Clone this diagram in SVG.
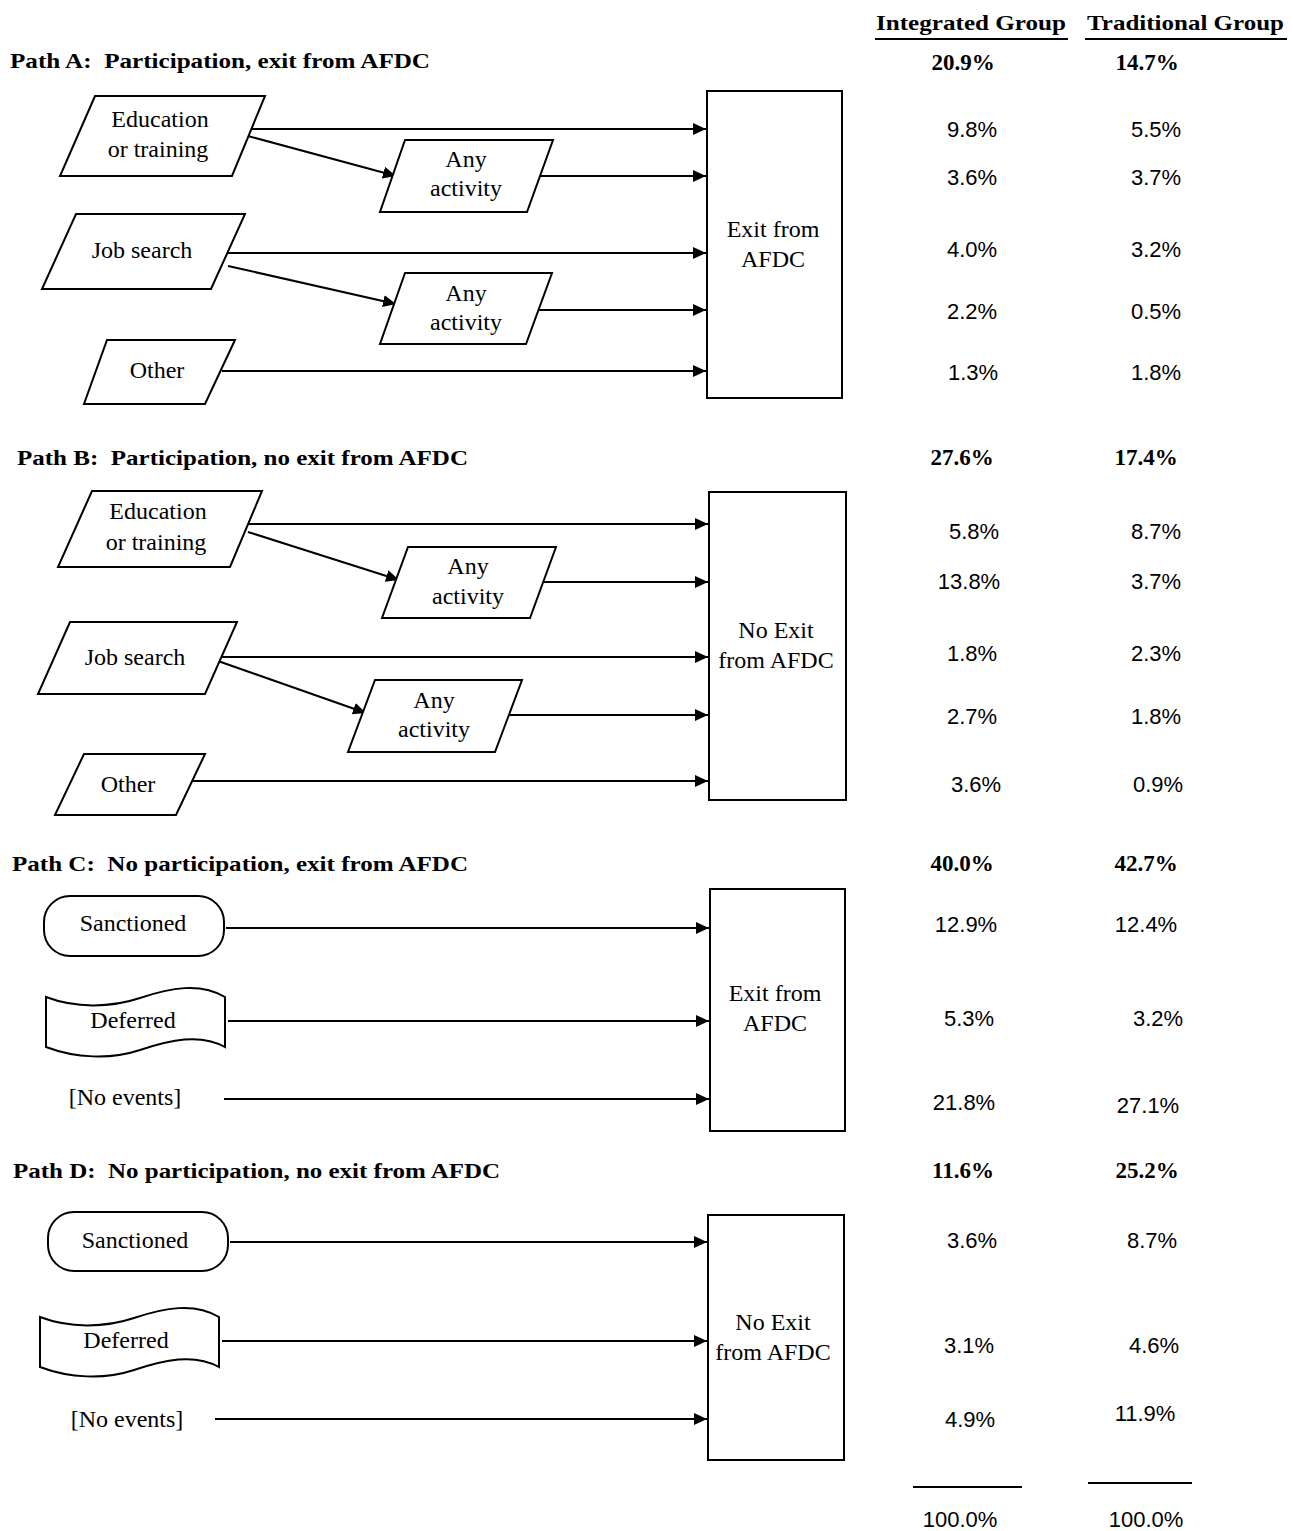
<svg xmlns="http://www.w3.org/2000/svg" width="1293" height="1531" viewBox="0 0 1293 1531">
<style>
.shape{fill:#fff;stroke:#000;stroke-width:2}
.conn{fill:none;stroke:#000;stroke-width:2}
.lbl{font-family:"Liberation Serif",serif;font-size:24px;text-anchor:middle;fill:#000}
.ttl{font-family:"Liberation Serif",serif;font-size:22px;font-weight:bold;fill:#000;white-space:pre}
.hdr{font-family:"Liberation Serif",serif;font-size:22px;font-weight:bold;fill:#000}
.tot{font-family:"Liberation Serif",serif;font-size:23px;font-weight:bold;text-anchor:middle;fill:#000}
.pct{font-family:"Liberation Sans",sans-serif;font-size:22px;text-anchor:middle;fill:#000}
</style>
<defs>
<marker id="arr" markerUnits="userSpaceOnUse" markerWidth="14" markerHeight="12" refX="13" refY="6" orient="auto">
<path d="M0,0 L13,6 L0,12 Z" fill="#000"/>
</marker>
</defs>
<rect width="1293" height="1531" fill="#fff"/>

<!-- Headers -->
<g id="headers">
<text class="hdr" x="876" y="30" textLength="190" lengthAdjust="spacingAndGlyphs">Integrated Group</text>
<line x1="875" y1="39" x2="1068" y2="39" stroke="#000" stroke-width="2"/>
<text class="hdr" x="1087" y="30" textLength="197" lengthAdjust="spacingAndGlyphs">Traditional Group</text>
<line x1="1085" y1="39" x2="1287" y2="39" stroke="#000" stroke-width="2"/>
</g>

<!-- Titles -->
<g id="titles">
<text class="ttl" x="10" y="68" textLength="420" lengthAdjust="spacingAndGlyphs" xml:space="preserve">Path A:  Participation, exit from AFDC</text>
<text class="ttl" x="17" y="465" textLength="451" lengthAdjust="spacingAndGlyphs" xml:space="preserve">Path B:  Participation, no exit from AFDC</text>
<text class="ttl" x="12" y="871" textLength="456" lengthAdjust="spacingAndGlyphs" xml:space="preserve">Path C:  No participation, exit from AFDC</text>
<text class="ttl" x="13" y="1178" textLength="487" lengthAdjust="spacingAndGlyphs" xml:space="preserve">Path D:  No participation, no exit from AFDC</text>
</g>

<!-- Connectors -->
<g id="connectors">
<line class="conn" x1="245" y1="129" x2="706" y2="129" marker-end="url(#arr)"/>
<line class="conn" x1="248" y1="136" x2="396" y2="176" marker-end="url(#arr)"/>
<line class="conn" x1="535" y1="176" x2="706" y2="176" marker-end="url(#arr)"/>
<line class="conn" x1="228" y1="253" x2="706" y2="253" marker-end="url(#arr)"/>
<line class="conn" x1="228" y1="266" x2="396" y2="304" marker-end="url(#arr)"/>
<line class="conn" x1="535" y1="310" x2="706" y2="310" marker-end="url(#arr)"/>
<line class="conn" x1="222" y1="371" x2="706" y2="371" marker-end="url(#arr)"/>

<line class="conn" x1="245" y1="524" x2="708" y2="524" marker-end="url(#arr)"/>
<line class="conn" x1="248" y1="532" x2="399" y2="580" marker-end="url(#arr)"/>
<line class="conn" x1="537" y1="582" x2="708" y2="582" marker-end="url(#arr)"/>
<line class="conn" x1="218" y1="657" x2="708" y2="657" marker-end="url(#arr)"/>
<line class="conn" x1="218" y1="661" x2="366" y2="713" marker-end="url(#arr)"/>
<line class="conn" x1="505" y1="715" x2="708" y2="715" marker-end="url(#arr)"/>
<line class="conn" x1="190" y1="781" x2="708" y2="781" marker-end="url(#arr)"/>

<line class="conn" x1="226" y1="928" x2="709" y2="928" marker-end="url(#arr)"/>
<line class="conn" x1="228" y1="1021" x2="709" y2="1021" marker-end="url(#arr)"/>
<line class="conn" x1="224" y1="1099" x2="709" y2="1099" marker-end="url(#arr)"/>

<line class="conn" x1="230" y1="1242" x2="707" y2="1242" marker-end="url(#arr)"/>
<line class="conn" x1="222" y1="1341" x2="707" y2="1341" marker-end="url(#arr)"/>
<line class="conn" x1="215" y1="1419" x2="707" y2="1419" marker-end="url(#arr)"/>
</g>

<!-- Path A nodes -->
<g id="a-edu">
<polygon class="shape" points="95,96 265,96 232,176 60,176"/>
<text class="lbl" x="160" y="127">Education</text>
<text class="lbl" x="158" y="157">or training</text>
</g>
<g id="a-any1">
<polygon class="shape" points="405,140 553,140 527,212 380,212"/>
<text class="lbl" x="466" y="167">Any</text>
<text class="lbl" x="466" y="196">activity</text>
</g>
<g id="a-job">
<polygon class="shape" points="76,214 245,214 211,289 42,289"/>
<text class="lbl" x="142" y="258">Job search</text>
</g>
<g id="a-any2">
<polygon class="shape" points="405,273 552,273 526,344 380,344"/>
<text class="lbl" x="466" y="301">Any</text>
<text class="lbl" x="466" y="330">activity</text>
</g>
<g id="a-other">
<polygon class="shape" points="107,340 235,340 205,404 84,404"/>
<text class="lbl" x="157" y="378">Other</text>
</g>
<g id="a-exit">
<rect class="shape" x="707" y="91" width="135" height="307"/>
<text class="lbl" x="773" y="237">Exit from</text>
<text class="lbl" x="773" y="267">AFDC</text>
</g>

<!-- Path B nodes -->
<g id="b-edu">
<polygon class="shape" points="92,491 262,491 230,567 58,567"/>
<text class="lbl" x="158" y="519">Education</text>
<text class="lbl" x="156" y="550">or training</text>
</g>
<g id="b-any1">
<polygon class="shape" points="408,547 556,547 530,618 382,618"/>
<text class="lbl" x="468" y="574">Any</text>
<text class="lbl" x="468" y="604">activity</text>
</g>
<g id="b-job">
<polygon class="shape" points="70,622 237,622 205,694 38,694"/>
<text class="lbl" x="135" y="665">Job search</text>
</g>
<g id="b-any2">
<polygon class="shape" points="375,680 522,680 495,752 348,752"/>
<text class="lbl" x="434" y="708">Any</text>
<text class="lbl" x="434" y="737">activity</text>
</g>
<g id="b-other">
<polygon class="shape" points="84,754 205,754 176,815 55,815"/>
<text class="lbl" x="128" y="792">Other</text>
</g>
<g id="b-noexit">
<rect class="shape" x="709" y="492" width="137" height="308"/>
<text class="lbl" x="776" y="638">No Exit</text>
<text class="lbl" x="776" y="668">from AFDC</text>
</g>

<!-- Path C nodes -->
<g id="c-sanc">
<rect class="shape" x="44" y="896" width="180" height="60" rx="26" ry="26"/>
<text class="lbl" x="133" y="931">Sanctioned</text>
</g>
<g id="c-def">
<path class="shape" d="M46,997 C75,1008 110,1008 140,998 C170,988 200,982 225,997 L225,1047 C200,1033 170,1040 140,1050 C110,1060 75,1058 46,1047 Z"/>
<text class="lbl" x="133" y="1028">Deferred</text>
</g>
<g id="c-none">
<text class="lbl" x="125" y="1105">[No events]</text>
</g>
<g id="c-exit">
<rect class="shape" x="710" y="889" width="135" height="242"/>
<text class="lbl" x="775" y="1001">Exit from</text>
<text class="lbl" x="775" y="1031">AFDC</text>
</g>

<!-- Path D nodes -->
<g id="d-sanc">
<rect class="shape" x="48" y="1212" width="180" height="59" rx="26" ry="26"/>
<text class="lbl" x="135" y="1248">Sanctioned</text>
</g>
<g id="d-def">
<path class="shape" transform="translate(-6,320)" d="M46,997 C75,1008 110,1008 140,998 C170,988 200,982 225,997 L225,1047 C200,1033 170,1040 140,1050 C110,1060 75,1058 46,1047 Z"/>
<text class="lbl" x="126" y="1348">Deferred</text>
</g>
<g id="d-none">
<text class="lbl" x="127" y="1427">[No events]</text>
</g>
<g id="d-noexit">
<rect class="shape" x="708" y="1215" width="136" height="245"/>
<text class="lbl" x="773" y="1330">No Exit</text>
<text class="lbl" x="773" y="1360">from AFDC</text>
</g>

<!-- Values -->
<g id="values">
<text class="tot" x="963" y="70">20.9%</text>
<text class="tot" x="1147" y="70">14.7%</text>
<text class="pct" x="972" y="137">9.8%</text>
<text class="pct" x="1156" y="137">5.5%</text>
<text class="pct" x="972" y="185">3.6%</text>
<text class="pct" x="1156" y="185">3.7%</text>
<text class="pct" x="972" y="257">4.0%</text>
<text class="pct" x="1156" y="257">3.2%</text>
<text class="pct" x="972" y="319">2.2%</text>
<text class="pct" x="1156" y="319">0.5%</text>
<text class="pct" x="973" y="380">1.3%</text>
<text class="pct" x="1156" y="380">1.8%</text>

<text class="tot" x="962" y="465">27.6%</text>
<text class="tot" x="1146" y="465">17.4%</text>
<text class="pct" x="974" y="539">5.8%</text>
<text class="pct" x="1156" y="539">8.7%</text>
<text class="pct" x="969" y="589">13.8%</text>
<text class="pct" x="1156" y="589">3.7%</text>
<text class="pct" x="972" y="661">1.8%</text>
<text class="pct" x="1156" y="661">2.3%</text>
<text class="pct" x="972" y="724">2.7%</text>
<text class="pct" x="1156" y="724">1.8%</text>
<text class="pct" x="976" y="792">3.6%</text>
<text class="pct" x="1158" y="792">0.9%</text>

<text class="tot" x="962" y="871">40.0%</text>
<text class="tot" x="1146" y="871">42.7%</text>
<text class="pct" x="966" y="932">12.9%</text>
<text class="pct" x="1146" y="932">12.4%</text>
<text class="pct" x="969" y="1026">5.3%</text>
<text class="pct" x="1158" y="1026">3.2%</text>
<text class="pct" x="964" y="1110">21.8%</text>
<text class="pct" x="1148" y="1113">27.1%</text>

<text class="tot" x="963" y="1178">11.6%</text>
<text class="tot" x="1147" y="1178">25.2%</text>
<text class="pct" x="972" y="1248">3.6%</text>
<text class="pct" x="1152" y="1248">8.7%</text>
<text class="pct" x="969" y="1353">3.1%</text>
<text class="pct" x="1154" y="1353">4.6%</text>
<text class="pct" x="970" y="1427">4.9%</text>
<text class="pct" x="1145" y="1421">11.9%</text>

<line x1="913" y1="1487" x2="1022" y2="1487" stroke="#000" stroke-width="2"/>
<line x1="1088" y1="1483" x2="1192" y2="1483" stroke="#000" stroke-width="2"/>
<text class="pct" x="960" y="1527">100.0%</text>
<text class="pct" x="1146" y="1527">100.0%</text>
</g>
</svg>
